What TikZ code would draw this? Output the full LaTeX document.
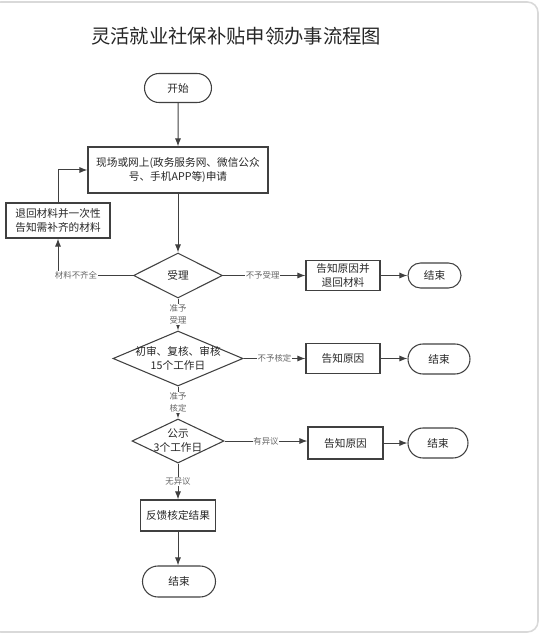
\documentclass[tikz,border=0pt]{standalone}
\usepackage{fontspec}
\setmainfont{Noto Sans CJK SC}
\usetikzlibrary{shapes.geometric,shapes.misc,arrows.meta}
\begin{document}
\begin{tikzpicture}[x=0.75pt,y=-0.75pt,
  box/.style={draw=black!75, line width=0.8pt, rectangle, inner sep=0pt, align=center,
    font=\fontsize{8}{10.5}\selectfont, text=black!85},
  term/.style={box, rounded rectangle},
  dia/.style={draw=black!75, line width=0.8pt, diamond, inner sep=0pt},
  dtext/.style={inner sep=0pt, align=center, font=\fontsize{8}{10.5}\selectfont, text=black!85},
  lbl/.style={fill=white, inner sep=0.4pt, align=center, font=\fontsize{6.3}{9}\selectfont, text=black!60},
  arr/.style={draw=black!75, line width=0.75pt, -{Latex[length=6pt,width=4.5pt]}},
  ln/.style={draw=black!75, line width=0.75pt}]
\useasboundingbox (0,0) rectangle (540,634);
\draw[gray!30, line width=1.2pt, rounded corners=8pt] (-10,2) rectangle (538,632);

\node[font=\fontsize{14.5}{17}\selectfont, text=black!85] (title) at (236,36) {灵活就业社保补贴申领办事流程图};

\node[term, minimum width=50.25pt, minimum height=21.75pt] (start) at (178,88) {开始};
\node[box, minimum width=135pt, minimum height=34.5pt] (apply) at (178,170) {现场或网上(政务服务网、微信公众\\号、手机APP等)申请};
\node[box, minimum width=78pt, minimum height=26.25pt] (ret) at (58,220.5) {退回材料并一次性\\告知需补齐的材料};

\node[dia, minimum width=66.75pt, minimum height=33.75pt] (d1) at (178,275.5) {};
\node[dtext] (d1t) at (d1) {受理};
\node[box, minimum width=55.5pt, minimum height=22.5pt] (r1) at (343,275.5) {告知原因并\\退回材料};
\node[term, minimum width=39.75pt, minimum height=18.75pt] (e1) at (434.5,275.5) {结束};

\node[dia, minimum width=97.5pt, minimum height=41.25pt] (d2) at (178,358.5) {};
\node[dtext] (d2t) at (d2) {初审、复核、审核\\15个工作日};
\node[box, minimum width=55.5pt, minimum height=22.5pt] (r2) at (343,358.5) {告知原因};
\node[term, minimum width=46.5pt, minimum height=22.5pt] (e2) at (439,359) {结束};

\node[dia, minimum width=69pt, minimum height=33pt] (d3) at (178,441) {};
\node[dtext] (d3t) at (d3) {公示\\3个工作日};
\node[box, minimum width=56.25pt, minimum height=24pt] (r3) at (345.5,443) {告知原因};
\node[term, minimum width=45pt, minimum height=22.5pt] (e3) at (438,443) {结束};

\node[box, minimum width=56.25pt, minimum height=23.25pt] (fb) at (178,515.5) {反馈核定结果};
\node[term, minimum width=54.75pt, minimum height=23.25pt] (e4) at (179,581.5) {结束};

\draw[arr] (start) -- (apply);
\draw[arr] (apply) -- (d1);
\draw[arr] (ret.north) |- (apply.west);
\draw[arr] (d1.west) -- node[lbl, pos=0.76] {材料不齐全} (d1.west -| ret.south) -- (ret.south);
\draw[arr] (d1.east) -- node[lbl, pos=0.48] {不予受理} (r1.west);
\draw[arr] (r1.east) -- (e1.west);
\draw[arr] (d1.south) -- node[lbl] {准予\\受理} (d2.north);
\draw[arr] (d2.east) -- node[lbl] {不予核定} (r2.west);
\draw[arr] (r2.east) -- (e2.west |- r2.east);
\draw[arr] (d2.south) -- node[lbl] {准予\\核定} (d3.north);
\draw[arr] (d3.east) -- node[lbl] {有异议} (d3.east -| r3.west);
\draw[arr] (r3.east) -- (e3.west);
\draw[arr] (d3.south) -- node[lbl] {无异议} (fb.north);
\draw[arr] (fb.south) -- (fb.south |- e4.north);
\end{tikzpicture}
\end{document}
